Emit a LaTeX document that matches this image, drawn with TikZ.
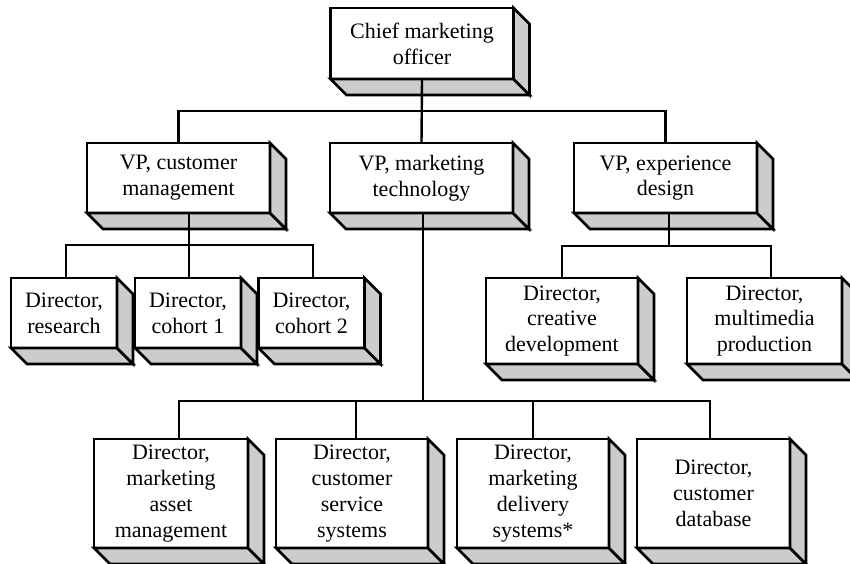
\documentclass[tikz,border=0pt]{standalone}
\usepackage{fontspec}
\setmainfont{Liberation Serif}
\definecolor{boxgray}{HTML}{CCCCCC}
\begin{document}
\begin{tikzpicture}[x=1pt,y=-1pt,
  box/.style={draw, line width=2.6pt, fill=white, rectangle, inner sep=0pt, outer sep=0pt,
    align=center, font=\fontsize{22}{25.8}\selectfont, line join=miter},
  vpbox/.style={box, minimum width=183pt, minimum height=70pt},
  smallbox/.style={box, minimum width=106pt, minimum height=70pt},
  midbox/.style={box, minimum width=153pt, minimum height=86pt},
  lowbox/.style={box, minimum width=153pt, minimum height=109pt},
  face/.style={draw, line width=2.6pt, fill=boxgray, line join=miter},
  link/.style={draw, line width=2.4pt, line join=miter}]
\useasboundingbox (0,0) rectangle (850,563);
\clip (0,0) rectangle (850,563);

% boxes
\node[vpbox, minimum height=71pt] (chief) at (422,43.5) {Chief marketing\\officer};
\node[vpbox] (vpc) at (178.5,178) {VP, customer\\management};
\node[vpbox] (vpm) at (421.5,178) {VP, marketing\\technology};
\node[vpbox] (vpe) at (665.5,178) {VP, experience\\design};
\node[smallbox] (research) at (64,313) {Director,\\research};
\node[smallbox] (cohortone) at (188,313) {Director,\\cohort 1};
\node[smallbox] (cohorttwo) at (311.5,313) {Director,\\cohort 2};
\node[midbox, minimum width=152pt] (creative) at (562,321) {Director,\\creative\\development};
\node[midbox, minimum width=155pt] (multimedia) at (764.5,321) {Director,\\multimedia\\production};
\node[lowbox, minimum width=154pt] (asset) at (171,493.5) {Director,\\marketing\\asset\\management};
\node[lowbox, minimum width=152pt] (service) at (352,493.5) {Director,\\customer\\service\\systems};
\node[lowbox, minimum width=152pt] (delivery) at (533,493.5) {Director,\\marketing\\delivery\\systems*};
\node[lowbox] (database) at (713.5,493.5) {Director,\\customer\\database};

% 3D depth faces
\foreach \n in {chief,vpc,vpm,vpe,research,cohortone,cohorttwo,creative,multimedia,asset,service,delivery,database}{
  \draw[face] (\n.south west) -- ++(16,16) -- ([shift={(16,16)}]\n.south east) -- (\n.south east) -- cycle;
  \draw[face] (\n.north east) -- ++(16,16) -- ([shift={(16,16)}]\n.south east) -- (\n.south east) -- cycle;
}

% bus levels
\coordinate (busa) at (0,111);
\coordinate (busb) at (0,245);
\coordinate (busc) at (0,401);
\coordinate (busd) at (0,246);

% chief to VPs
\draw[link] (chief.south) -- (vpm.north);
\draw[link] (vpc.north) -- (vpc.north |- busa) -- (vpe.north |- busa) -- (vpe.north);

% VP customer management to directors
\draw[link] ([xshift=10.5pt]vpc.south) -- ([xshift=10.5pt]vpc.south |- busb);
\draw[link] ([xshift=2pt]research.north) -- ([xshift=2pt]research.north |- busb)
  -- ([xshift=1.5pt]cohorttwo.north |- busb) -- ([xshift=1.5pt]cohorttwo.north);
\draw[link] ([xshift=1pt]cohortone.north) -- ([xshift=1pt]cohortone.north |- busb);

% VP marketing technology to directors
\draw[link] ([xshift=1.5pt]vpm.south) -- ([xshift=1.5pt]vpm.south |- busc);
\draw[link] ([xshift=8pt]asset.north) -- ([xshift=8pt]asset.north |- busc)
  -- ([xshift=-3.5pt]database.north |- busc) -- ([xshift=-3.5pt]database.north);
\draw[link] ([xshift=4pt]service.north) -- ([xshift=4pt]service.north |- busc);
\draw[link] (delivery.north) -- (delivery.north |- busc);

% VP experience design to directors
\draw[link] ([xshift=3.5pt]vpe.south) -- ([xshift=3.5pt]vpe.south |- busd);
\draw[link] (creative.north) -- (creative.north |- busd)
  -- ([xshift=6.5pt]multimedia.north |- busd) -- ([xshift=6.5pt]multimedia.north);
\end{tikzpicture}
\end{document}
